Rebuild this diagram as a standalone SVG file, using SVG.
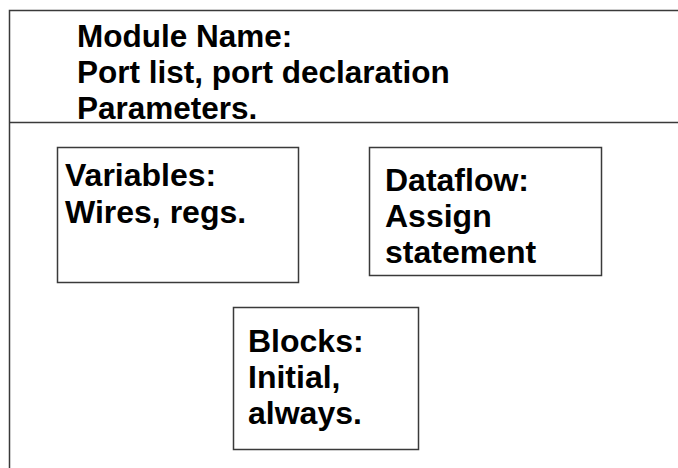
<svg xmlns="http://www.w3.org/2000/svg" width="678" height="468" viewBox="0 0 678 468">
  <style>
    .frame { fill: none; stroke: #3a3a3a; stroke-width: 1.5; }
    .box { fill: #ffffff; stroke: #3a3a3a; stroke-width: 1.5; }
    .label { font-family: "Liberation Sans", Arial, sans-serif; font-weight: bold; font-size: 32px; fill: #000000; }
    .head { font-size: 31.5px; }
  </style>
  <rect width="678" height="468" fill="#ffffff"/>

  <!-- module outline: header band and body -->
  <g id="module-frame">
    <path class="frame" d="M678 10.5 H9.5 V468"/>
    <line class="frame" x1="9" y1="122.5" x2="678" y2="122.5"/>
  </g>

  <g id="header">
    <text class="label head" x="77" y="47">Module Name:</text>
    <text class="label head" x="77" y="83">Port list, port declaration</text>
    <text class="label head" x="77" y="119">Parameters.</text>
  </g>

  <g id="variables">
    <rect class="box" x="57.5" y="147.5" width="241" height="135"/>
    <text class="label" x="65" y="186">Variables:</text>
    <text class="label" x="65" y="223">Wires, regs.</text>
  </g>

  <g id="dataflow">
    <rect class="box" x="369.5" y="147.5" width="232" height="128"/>
    <text class="label" x="385" y="191">Dataflow:</text>
    <text class="label" x="385" y="227">Assign</text>
    <text class="label" x="385" y="263">statement</text>
  </g>

  <g id="blocks">
    <rect class="box" x="233.5" y="307.5" width="185" height="142"/>
    <text class="label" x="248" y="352">Blocks:</text>
    <text class="label" x="248" y="388">Initial,</text>
    <text class="label" x="248" y="424">always.</text>
  </g>

  <g id="connectors"/>
</svg>
